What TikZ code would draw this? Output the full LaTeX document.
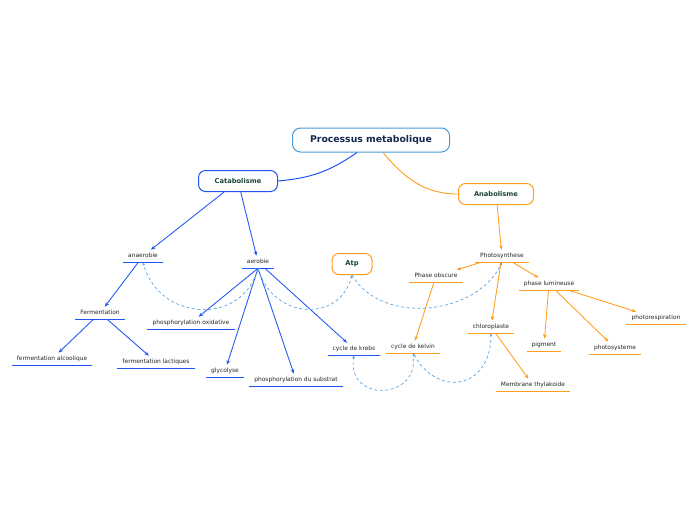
\documentclass[tikz,border=0pt]{standalone}
\usepackage{fontspec}
\setmainfont{DejaVu Sans}
\usepackage{xcolor}
\usetikzlibrary{arrows.meta,calc}
\definecolor{catblue}{HTML}{1E55F5}
\definecolor{anaorange}{HTML}{FF9E1B}
\definecolor{linkblue}{HTML}{5AA5E6}
\definecolor{rootblue}{HTML}{4A9AD6}
\definecolor{rootnavy}{HTML}{16284F}
\definecolor{boxgreen}{HTML}{1C4536}
\def\leaf#1#2#3#4{\node [leaf=#3] (#1) at (#2) {#4}}
\tikzstyle{root}=[draw=rootblue,line width=1pt,rounded corners=8pt,fill=white,minimum width=157pt,minimum height=24pt,font=\bfseries\fontsize{9.3}{10}\selectfont,text=rootnavy]
\tikzstyle{branch}=[line width=1pt,rounded corners=7pt,fill=white,minimum height=21pt,font=\bfseries\fontsize{6.7}{8}\selectfont,text=boxgreen]
\tikzset{leaf/.style={font=\fontsize{5.9}{7}\selectfont,text=black!85,text height=4.3pt,text depth=1.3pt,inner xsep=5pt,inner ysep=3.3pt,
  append after command={(\tikzlastnode.south west) edge[draw=#1,line width=1.4pt,-] (\tikzlastnode.south east)}},
  linktip/.tip={Stealth[length=3.2pt,width=2.8pt]}}
\tikzstyle{cata}=[draw=catblue,line width=0.85pt,-{Stealth[length=4.5pt,width=3.6pt]}]
\tikzstyle{anab}=[draw=anaorange,line width=0.85pt,-{Stealth[length=4.5pt,width=3.6pt]}]
\tikzstyle{link}=[draw=linkblue,line width=0.7pt,dash pattern=on 3pt off 2.5pt]

\begin{document}
\begin{tikzpicture}[x=1pt,y=1pt]
    \fill[white] (0,0) rectangle (696,-520);
    \useasboundingbox (0,0) rectangle (696,-520);
    % main topics
    \node[root] (proc) at (371,-140) {Processus metabolique};
    \node[branch,draw=catblue,minimum width=79pt] (cat) at (238,-181) {Catabolisme};
    \node[branch,draw=anaorange,minimum width=75pt] (ana) at (496,-194) {Anabolisme};
    \node[branch,draw=anaorange,minimum width=40pt] (atp) at (352,-264) {Atp};
    \draw[catblue,line width=1pt] ($(proc.south)+(-14,0)$) to[out=215,in=5] (cat.east);
    \draw[anaorange,line width=0.9pt] ($(proc.south)+(12,0)$) to[out=-50,in=180] (ana.west);
    % catabolisme
    \leaf{anae}{143,-256}{catblue}{anaerobie};
    \leaf{aer}{258,-262}{catblue}{aerobie};
    \leaf{ferm}{100,-313}{catblue}{Fermentation};
    \leaf{phox}{191,-323}{catblue}{phosphorylation oxidative};
    \leaf{alc}{52,-359}{catblue}{fermentation alcoolique};
    \leaf{lact}{156,-362}{catblue}{fermentation lactiques};
    \leaf{glyc}{225,-371}{catblue}{glycolyse};
    \leaf{subs}{296,-380}{catblue}{phosphorylation du substrat};
    \leaf{krebs}{354,-349}{catblue}{cycle de krebs};
    \draw[cata] (cat) -- (anae);
    \draw[cata] (cat) -- (aer);
    \draw[cata] (anae) -- (ferm);
    \draw[cata] (ferm) -- (alc);
    \draw[cata] (ferm) -- (lact);
    \draw[cata] (aer.south) -- (phox);
    \draw[cata] (aer.south) -- (glyc);
    \draw[cata] (aer.south) -- (subs);
    \draw[cata] (aer) -- (krebs);
    % anabolisme
    \leaf{photo}{502,-256}{anaorange}{Photosynthese};
    \leaf{obsc}{436,-276}{anaorange}{Phase obscure};
    \leaf{lum}{549,-284}{anaorange}{phase lumineuse};
    \leaf{chlo}{491,-327}{anaorange}{chloroplaste};
    \leaf{kelv}{413,-347}{anaorange}{cycle de kelvin};
    \leaf{pres}{656,-318}{anaorange}{photorespiration};
    \leaf{pig}{544,-345}{anaorange}{pigment};
    \leaf{psys}{615,-348}{anaorange}{photosysteme};
    \leaf{memb}{533,-385}{anaorange}{Membrane thylakoide};
    \draw[anab] (ana) -- (photo);
    \draw[anab] (photo) -- (obsc);
    \draw[anab] (photo) -- (lum);
    \draw[anab] (photo) -- (chlo);
    \draw[anab] (obsc) -- (kelv);
    \draw[anab] (lum) -- (pig);
    \draw[anab] (lum) -- (psys);
    \draw[anab] (lum) -- (pres);
    \draw[anab] (chlo) -- (memb);
    % relations
    \draw[link,-linktip] (aer.south) to[out=-105,in=-75,looseness=1.35] (anae.south);
    \draw[link,-linktip] (aer.south) to[out=-75,in=-105,looseness=1.4] (atp.south);
    \draw[link,-linktip] (atp.south) to[out=-60,in=-115] (photo.south);
    \draw[link,-linktip] (kelv.south) to[out=-80,in=-100,looseness=2.1] (krebs.south);
    \draw[link,linktip-linktip] (kelv.south) to[out=-60,in=-90,looseness=1.7] (chlo.south);
\end{tikzpicture}
\end{document}
